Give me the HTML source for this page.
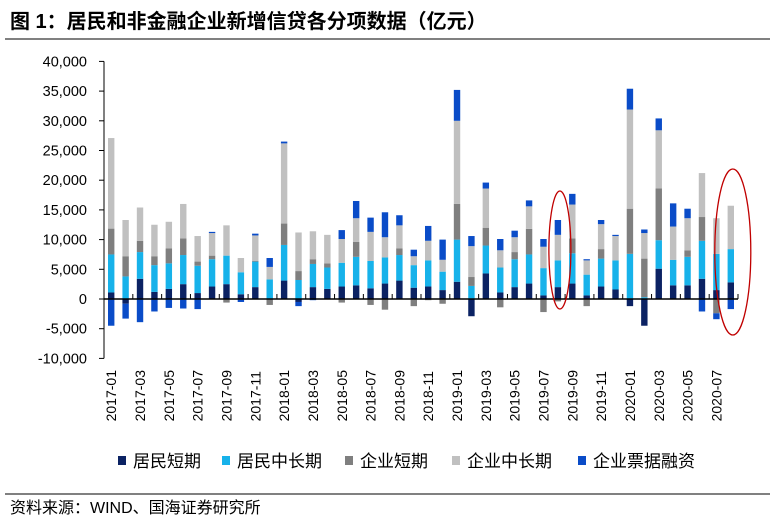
<!DOCTYPE html>
<html><head><meta charset="utf-8"><style>
body{margin:0;background:#fff;}
svg{display:block;font-family:"Liberation Sans","Noto Sans CJK SC",sans-serif;}
</style></head><body>
<svg id="c" width="775" height="525">
<text x="10" y="28" font-size="20" font-weight="bold" fill="#000">图 1：居民和非金融企业新增信贷各分项数据（亿元）</text>
<line x1="5" y1="39" x2="770" y2="39" stroke="#000" stroke-width="1"/>
<line x1="5" y1="494" x2="770" y2="494" stroke="#000" stroke-width="1"/>
<text x="10" y="513" font-size="16" fill="#000">资料来源：WIND、国海证券研究所</text>
<g id="plot"></g>
<g id="legend"></g>
</svg>
<script>
const categories=[];for(let y=2017;y<=2020;y++)for(let m=1;m<=12;m++){if(y===2020&&m>8)break;categories.push(y+'-'+String(m).padStart(2,'0'));}
const resShort=[1100,-800,3400,1200,1700,2500,1000,2100,2500,800,2000,0,3100,-500,2000,1700,2100,2300,1800,2600,3100,1900,2100,1500,2900,-2900,4300,1100,2000,2600,600,2000,2600,600,2100,1600,-1200,-4500,5100,2300,2300,3400,1500,2800];
const resLong=[6400,3800,4500,4500,4300,4900,4600,4600,4800,3700,4300,3300,6000,3200,3900,3600,4000,4800,4600,4400,4300,3800,4400,3100,7100,2200,4700,4200,4700,4900,4600,4500,5100,3500,4700,4900,7600,300,4800,4300,4800,6400,6100,5600];
const corpShort=[4350,3400,1900,1500,2500,2800,700,600,-600,0,100,-1000,3600,1500,800,700,-600,2500,-1000,-1800,1100,-1200,-200,-800,6000,1500,3000,-1400,1200,4300,-2200,-400,2500,-1200,1600,0,7600,6500,8700,0,1100,4000,-2400,0];
const corpLong=[15250,6100,5600,5300,4500,5800,4300,3800,5100,2400,4300,2100,13500,6500,4700,4800,4000,4000,4900,3400,3900,1500,3300,2000,14000,5200,6600,2900,2500,3800,3600,4300,5700,2400,4200,4100,16700,4300,9800,5600,5400,7400,6000,7300];
const bills=[-4500,-2500,-3900,-2100,-1500,-1600,-1700,200,0,-500,300,1500,300,-700,-200,0,1500,2900,2400,4200,1700,1100,2500,3400,5200,1700,1000,1900,1100,1000,1300,2500,1800,200,700,200,3500,600,2000,3900,1600,-2100,-1000,-1700];
const seriesNames=['居民短期','居民中长期','企业短期','企业中长期','企业票据融资'];
const seriesKeys=['resident-short','resident-long','corp-short','corp-long','bill-financing'];
const colors=['#0b2263','#17b2ea','#7f7f7f','#c0c0c0','#0a4cc8'];
const yTicks=[-10000,-5000,0,5000,10000,15000,20000,25000,30000,35000,40000];
const series=[resShort,resLong,corpShort,corpLong,bills];
const NS='http://www.w3.org/2000/svg';
const X0=104,X1=738,Y0=299,PX=29.7/5000;
const y=v=>Y0-v*PX;
const step=(X1-X0)/categories.length;
const xc=i=>X0+step*(i+0.5);
const g=document.getElementById('plot');
function mk(t,a,p){const e=document.createElementNS(NS,t);for(const k in a)e.setAttribute(k,a[k]);(p||g).appendChild(e);return e;}
let ax=mk('line',{x1:X0,y1:y(40000),x2:X0,y2:y(-10000),stroke:'#000','stroke-width':1});


yTicks.forEach(v=>{
  const tk=mk('line',{x1:X0-5,y1:y(v),x2:X0,y2:y(v),stroke:'#000'});
  
  
  const t=mk('text',{x:X0-17,y:y(v)+5,'font-size':14.5,'text-anchor':'end',fill:'#000'});
  t.textContent=v.toLocaleString('en-US');
  
  
});
categories.forEach((c,i)=>{
  let pos=0,neg=0;
  series.forEach((s,k)=>{
    const v=s[i];if(!v)return;
    let top,bot;
    if(v>0){bot=pos;pos+=v;top=pos;}else{top=neg;neg+=v;bot=neg;}
    const r=mk('rect',{x:xc(i)-3.2,y:y(top),width:6.4,height:Math.max(0.5,y(bot)-y(top)),fill:colors[k]});
    
    
  });
  if(i%2===0){
    const t=mk('text',{transform:`translate(${xc(i)+5},${y(-10000)+63}) rotate(-90)`,'font-size':14,fill:'#000'});
    t.textContent=c;
    
    
  }
  if(i%2===1){
    const tk=mk('line',{x1:X0+step*(i+1),y1:Y0,x2:X0+step*(i+1),y2:Y0-5,stroke:'#000'});
    
    
  }
});
const zl=mk('line',{x1:X0,y1:Y0,x2:X1,y2:Y0,stroke:'#000','stroke-width':1.5});


[[31,11,250,59],[43,18,252,83]].forEach(([i,rx,cy,ry])=>{
  const e=mk('ellipse',{cx:xc(i)+2,cy:cy,rx:rx,ry:ry,fill:'none',stroke:'#c00000','stroke-width':1.3});
  
  
});
const lg=document.getElementById('legend');
const lx=[118,222,345,452,578];
seriesNames.forEach((n,k)=>{
  const r=mk('rect',{x:lx[k],y:456,width:8,height:9,fill:colors[k]},lg);
  
  
  const t=mk('text',{x:lx[k]+15,y:467,'font-size':17,fill:'#000'},lg);
  t.textContent=n;
  
  
});
</script>
</body></html>
